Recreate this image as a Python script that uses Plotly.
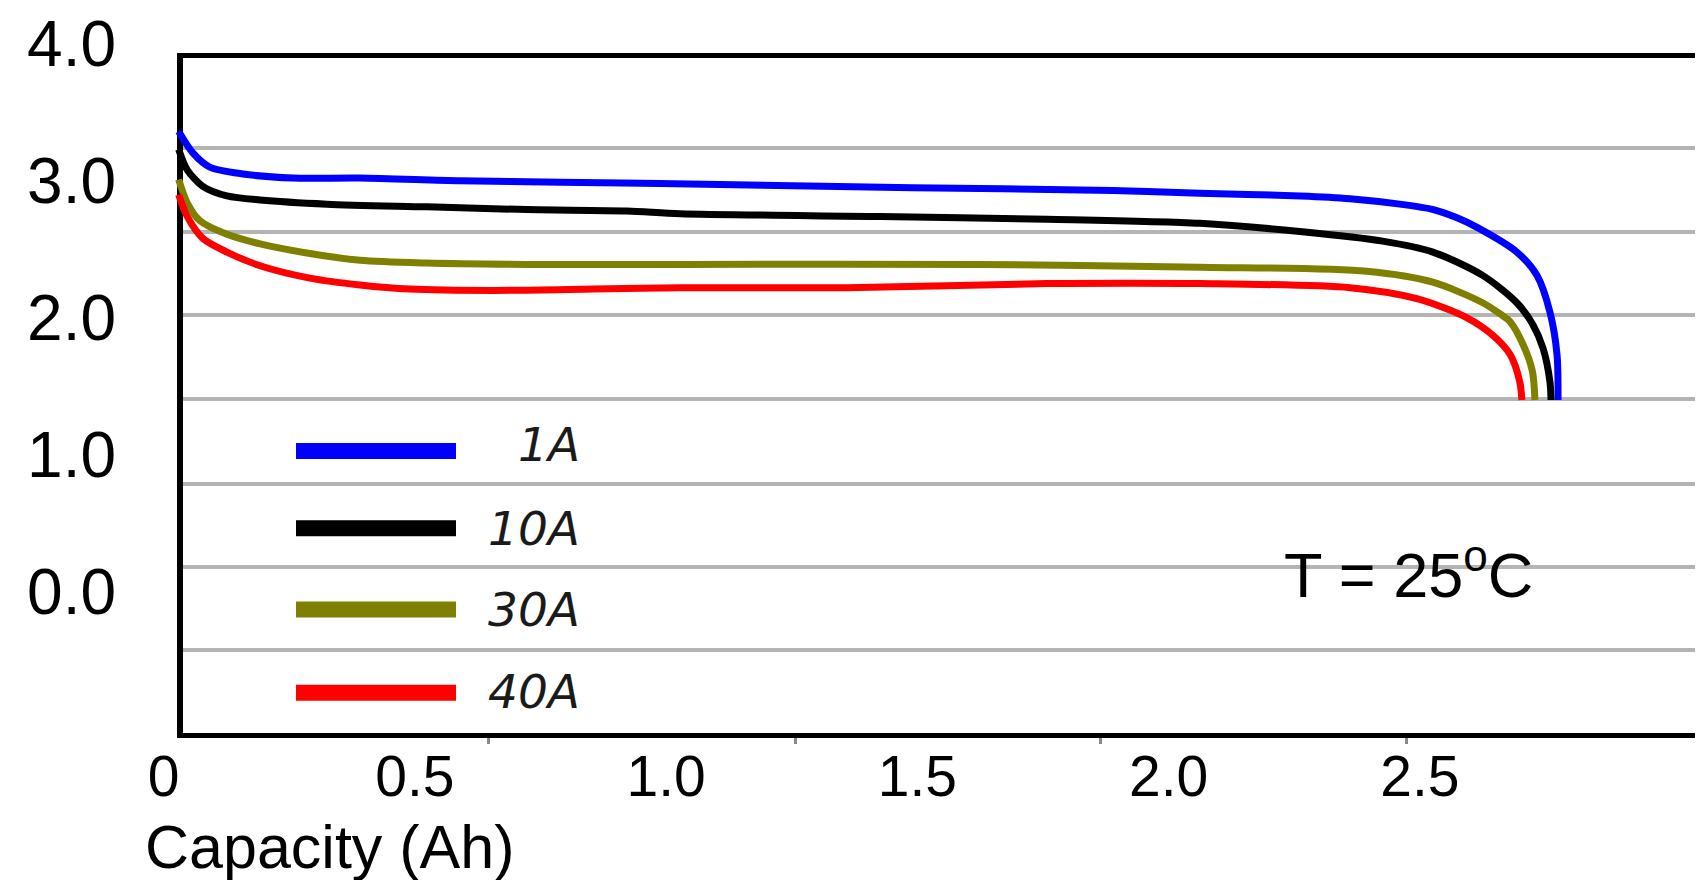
import plotly.graph_objects as go

# ---------------- data ----------------
series_names = ["1A", "10A", "30A", "40A"]
series_colors = ["#0000ff", "#000000", "#808000", "#ff0000"]

cap_1A = [0.030, 0.059, 0.092, 0.158, 0.257, 0.391, 0.590, 0.789, 0.988, 1.491, 1.889,
          2.062, 2.262, 2.361, 2.460, 2.527, 2.574, 2.614, 2.693, 2.733, 2.759, 2.773, 2.775]
volt_1A = [3.37, 3.21, 3.11, 3.06, 3.03, 3.03, 3.01, 3.00, 2.99, 2.96, 2.94,
           2.92, 2.90, 2.88, 2.84, 2.80, 2.74, 2.67, 2.49, 2.32, 2.05, 1.74, 1.41]

cap_10A = [0.030, 0.047, 0.078, 0.126, 0.192, 0.325, 0.524, 0.723, 0.922, 1.028, 1.426,
           1.758, 2.062, 2.261, 2.426, 2.526, 2.625, 2.693, 2.725, 2.745, 2.759, 2.761]
volt_10A = [3.24, 3.09, 2.97, 2.90, 2.87, 2.84, 2.82, 2.80, 2.79, 2.77, 2.75,
            2.73, 2.70, 2.64, 2.57, 2.49, 2.32, 2.12, 1.96, 1.79, 1.54, 1.41]

cap_30A = [0.030, 0.047, 0.072, 0.126, 0.192, 0.291, 0.391, 0.524, 0.723, 1.028, 1.625,
           2.062, 2.394, 2.526, 2.625, 2.659, 2.680, 2.706, 2.724, 2.729]
volt_30A = [3.02, 2.85, 2.72, 2.62, 2.55, 2.48, 2.43, 2.41, 2.40, 2.40, 2.40,
            2.38, 2.35, 2.27, 2.12, 2.04, 1.98, 1.81, 1.62, 1.41]

cap_40A = [0.030, 0.047, 0.078, 0.126, 0.192, 0.291, 0.391, 0.490, 0.656, 0.855, 1.028,
           1.360, 1.758, 2.062, 2.361, 2.494, 2.594, 2.646, 2.680, 2.699, 2.703]
volt_40A = [2.91, 2.75, 2.59, 2.49, 2.39, 2.30, 2.25, 2.22, 2.21, 2.22, 2.23,
            2.23, 2.26, 2.26, 2.23, 2.15, 2.01, 1.88, 1.74, 1.54, 1.41]

capacities = [cap_1A, cap_10A, cap_30A, cap_40A]
voltages = [volt_1A, volt_10A, volt_30A, volt_40A]

x_tick_vals = [0, 0.5, 1.0, 1.5, 2.0, 2.5]
x_tick_text = ["0", "0.5", "1.0", "1.5", "2.0", "2.5"]
y_tick_vals = [4, 3, 2, 1, 0]
y_tick_text = ["4.0", "3.0", "2.0", "1.0", "0.0"]
x_title = "Capacity (Ah)"
temp_label = "T = 25<sup>o</sup>C"

# ---------------- layout geometry (screen pixels) ----------------
SCREEN_W, SCREEN_H = 1703, 880
PAGE_MARGIN = 8                       # default body margin of the html page
W, H = SCREEN_W - PAGE_MARGIN, SCREEN_H - PAGE_MARGIN
X0_PX, X_PER_AH = 163.6, 502.5        # screen pixel of 0 Ah, pixels per Ah
Y0_PX, Y_PER_V = 590.5, 138.25        # screen pixel of 0 V, pixels per V
FRAME_L, FRAME_T, FRAME_B = 183, 50.5, 731.5
GRID_ROWS_PX = [141, 226, 310, 395, 480, 564, 648]
FRAME_TICKS_PX = [182, 488, 795, 1100, 1406]


def fx(p):
    return (p - PAGE_MARGIN) / W


def fy(p):
    return 1 - (p - PAGE_MARGIN) / H


def ah(p):
    return (p - X0_PX) / X_PER_AH


def volt(p):
    return (Y0_PX - p) / Y_PER_V


FONT = "Liberation Sans, Arial, Helvetica, sans-serif"

fig = go.Figure()

# empty trace so that the frame/grid subplot is created
fig.add_trace(go.Scatter(x=[], y=[], xaxis="x", yaxis="y", showlegend=False,
                         hoverinfo="skip"))

for name, color, xs, ys in zip(series_names, series_colors, capacities, voltages):
    fig.add_trace(go.Scatter(
        x=xs, y=ys, name=name, mode="lines",
        line=dict(color=color, width=7, shape="spline", smoothing=0.8),
        xaxis="x2", yaxis="y2", showlegend=False,
    ))

# legend drawn as long thick swatches + italic labels
legend_sw_y = [447, 525, 607, 691]
legend_tx_y = [440, 525, 607, 690]
shapes = []
annotations = []
for name, color, sy, ty in zip(series_names, series_colors, legend_sw_y, legend_tx_y):
    shapes.append(dict(type="line", xref="paper", yref="paper",
                       x0=fx(296), x1=fx(456), y0=fy(sy), y1=fy(sy),
                       line=dict(color=color, width=16)))
    annotations.append(dict(xref="paper", yref="paper", x=fx(582), y=fy(ty),
                            xanchor="right", yanchor="middle", showarrow=False,
                            text="<i>" + name + "</i>",
                            font=dict(family="DejaVu Sans", size=47, color="#1a1a1a")))

annotations.append(dict(xref="paper", yref="paper", x=fx(1408), y=fy(568),
                        xanchor="center", yanchor="middle", showarrow=False,
                        text=temp_label, font=dict(family=FONT, size=63, color="black")))
annotations.append(dict(xref="paper", yref="paper", x=fx(143), y=fy(847),
                        xanchor="left", yanchor="middle", showarrow=False,
                        text=x_title, font=dict(family=FONT, size=61, color="black")))

fig.update_layout(
    width=W, height=H,
    margin=dict(l=0, r=0, t=0, b=0),
    paper_bgcolor="white", plot_bgcolor="rgba(0,0,0,0)",
    showlegend=False,
    shapes=shapes, annotations=annotations,
    # frame + grid subplot
    xaxis=dict(domain=[fx(FRAME_L), 1], range=[ah(FRAME_L), ah(SCREEN_W)], anchor="y",
               showgrid=False, zeroline=False, showticklabels=False,
               showline=True, linecolor="black", linewidth=5, mirror=True,
               ticks="outside", ticklen=6, tickwidth=3, tickcolor="#8a8a8a",
               tickmode="array", tickvals=[ah(p) for p in FRAME_TICKS_PX]),
    yaxis=dict(domain=[fy(FRAME_B), fy(FRAME_T)], range=[volt(FRAME_B), volt(FRAME_T)],
               anchor="x",
               showgrid=True, gridcolor="#b4b4b4", gridwidth=4,
               tickmode="array", tickvals=[volt(p) for p in GRID_ROWS_PX],
               zeroline=False, showticklabels=False,
               ticks="", showline=True, linecolor="black", linewidth=6),
    # data subplot with the readable scales
    xaxis2=dict(domain=[0, 1], range=[ah(PAGE_MARGIN), ah(SCREEN_W)], anchor="y2",
                showgrid=False, zeroline=False, showline=False, ticks="",
                tickmode="array", tickvals=x_tick_vals, ticktext=x_tick_text,
                tickfont=dict(family=FONT, size=57, color="black"),
                ticklabelstandoff=5),
    yaxis2=dict(domain=[fy(FRAME_B), 1], range=[volt(FRAME_B), volt(PAGE_MARGIN)],
                anchor="free", position=fx(116),
                showgrid=False, zeroline=False, showline=False, ticks="",
                tickmode="array", tickvals=y_tick_vals, ticktext=y_tick_text,
                tickfont=dict(family=FONT, size=64, color="black"),
                ticklabelshift=-2, ticklabeloverflow="allow"),
)

fig.write_html("out.html")
